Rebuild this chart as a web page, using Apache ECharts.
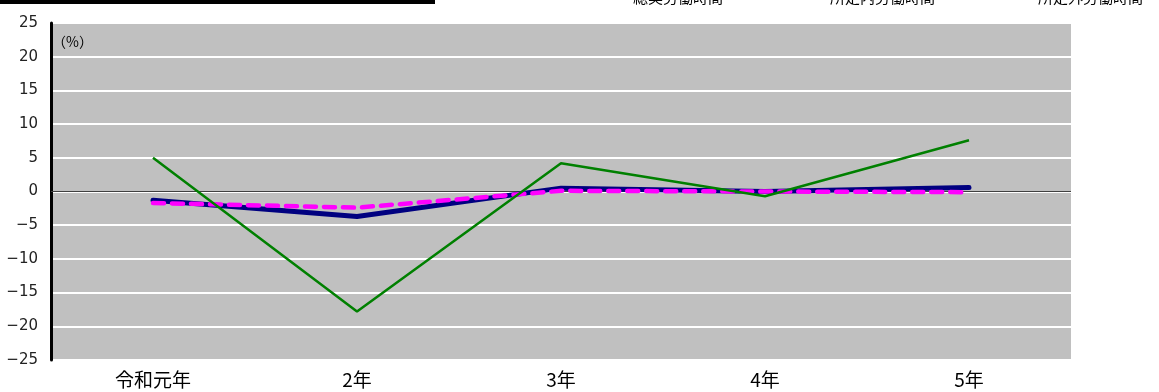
<!DOCTYPE html>
<html>
<head>
<meta charset="utf-8">
<script src="https://cdn.jsdelivr.net/npm/echarts@6/dist/echarts.min.js"></script>
<style>
  html, body { margin: 0; padding: 0; background: #fff; }
  #chart { width: 1159px; height: 392px; }
</style>
</head>
<body>
<div id="chart"></div>
<script>
// 労働時間の前年比（%）
const categories = ['令和元年', '2年', '3年', '4年', '5年'];
const seriesNames = ['総実労働時間', '所定内労働時間', '所定外労働時間'];
const totalHours = [-1.3, -3.7, 0.5, 0.0, 0.6];
const scheduledHours = [-1.7, -2.4, 0.1, 0.0, -0.1];
const overtimeHours = [5.0, -17.8, 4.2, -0.7, 7.6];
const yTicks = { min: -25, max: 25, interval: 5 };

const font = '"Noto Sans CJK JP", "Noto Sans", sans-serif';
const chart = echarts.init(document.getElementById('chart'));

chart.setOption({
  animation: false,
  backgroundColor: '#ffffff',
  grid: {
    left: 51, right: 88, top: 23, bottom: 32,
    show: true, backgroundColor: '#c0c0c0', borderWidth: 0
  },
  graphic: [
    { type: 'rect', shape: { x: 0, y: 0, width: 435, height: 4 }, style: { fill: '#000' } },
    { type: 'text', x: 633, y: 5, style: { text: seriesNames[0], font: '15px ' + font, fill: '#000', textVerticalAlign: 'bottom' } },
    { type: 'text', x: 830, y: 5, style: { text: seriesNames[1], font: '15px ' + font, fill: '#000', textVerticalAlign: 'bottom' } },
    { type: 'text', x: 1038, y: 5, style: { text: seriesNames[2], font: '15px ' + font, fill: '#000', textVerticalAlign: 'bottom' } },
    { type: 'text', x: 52, y: 42, style: { text: '（%）', font: '14px ' + font, fill: '#000', textVerticalAlign: 'middle' } }
  ],
  xAxis: {
    type: 'category',
    data: categories,
    boundaryGap: true,
    axisLine: { show: false },
    axisTick: { show: false },
    axisLabel: { color: '#000', fontSize: 19, fontFamily: font, margin: 10 },
    splitLine: { show: false }
  },
  yAxis: {
    type: 'value',
    min: yTicks.min, max: yTicks.max, interval: yTicks.interval,
    axisLine: { show: true, lineStyle: { color: '#000', width: 3 } },
    axisTick: { show: false },
    axisLabel: {
      color: '#222', fontSize: 15, fontFamily: '"DejaVu Sans", sans-serif', margin: 13,
      formatter: v => String(v).replace('-', '\u2212')
    },
    splitLine: { show: true, lineStyle: { color: '#ffffff', width: 2 } }
  },
  series: [
    {
      name: seriesNames[0], type: 'line', data: totalHours,
      symbol: 'none', z: 2,
      lineStyle: { color: '#000080', width: 5, cap: 'round', join: 'round' },
      markLine: {
        silent: true, symbol: 'none', label: { show: false },
        lineStyle: { color: '#404040', width: 1, type: 'solid' },
        data: [{ yAxis: 0 }], z: 1
      }
    },
    {
      name: seriesNames[1], type: 'line', data: scheduledHours,
      symbol: 'none', z: 3,
      lineStyle: { color: '#ff00ff', width: 4.5, type: [11, 8], cap: 'round' }
    },
    {
      name: seriesNames[2], type: 'line', data: overtimeHours,
      symbol: 'none', z: 4,
      lineStyle: { color: '#008000', width: 2.5 }
    }
  ]
});
</script>
</body>
</html>
